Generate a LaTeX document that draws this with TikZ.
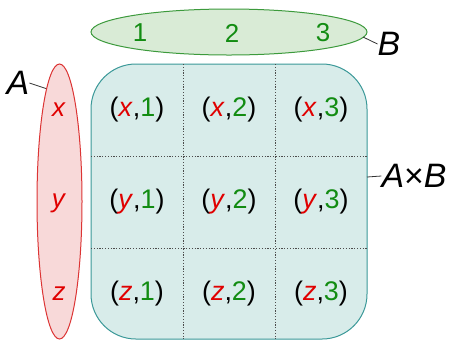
\documentclass[tikz,border=0pt]{standalone}
\usepackage{fontspec}
\setmainfont{Liberation Sans}
\usetikzlibrary{shapes.geometric}
\definecolor{gfill}{HTML}{D9EBD6}
\definecolor{gline}{HTML}{3C9A3C}
\definecolor{gtext}{HTML}{128C12}
\definecolor{rfill}{HTML}{F8D9D9}
\definecolor{rline}{HTML}{DC3434}
\definecolor{rtext}{HTML}{E00000}
\definecolor{tfill}{HTML}{D8ECEA}
\definecolor{tline}{HTML}{3A9898}
\newcommand{\redel}[1]{\textcolor{rtext}{\textit{#1}}}
\newcommand{\grel}[1]{\textcolor{gtext}{#1}}
\tikzset{
  elem/.style={inner sep=0pt, font=\fontsize{26}{30}\selectfont},
  cell/.style={inner sep=0pt, font=\fontsize{27}{32}\selectfont},
  setname/.style={inner sep=0pt, font=\fontsize{34}{40}\selectfont\itshape},
  leader/.style={draw=black!80, line width=0.8bp},
  gridline/.style={draw=black!70, line width=0.9bp, dash pattern=on 1.2bp off 1.6bp},
}
\begin{document}
\begin{tikzpicture}[x=1bp,y=-1bp]
\useasboundingbox (0,0) rectangle (459,349);
% Cartesian product box
\node (P) [draw=tline, fill=tfill, line width=1bp, rounded corners=45bp, minimum width=276bp, minimum height=275bp, inner sep=0pt] at (229,201.5) {};
\draw[gridline] (183,64) -- (183,339);
\draw[gridline] (275,64) -- (275,339);
\draw[gridline] (91,156) -- (367,156);
\draw[gridline] (91,248) -- (367,248);
% set B
\node (B) [ellipse, draw=gline, fill=gfill, line width=1bp, minimum width=276bp, minimum height=46bp, inner sep=0pt] at (229,32) {};
% set A
\node (A) [ellipse, draw=rline, fill=rfill, line width=1bp, minimum width=45bp, minimum height=275bp, inner sep=0pt] at (59.5,201.5) {};
% elements of B
\node (b1) [elem, text=gtext] at (140,33) {1};
\node (b2) [elem, text=gtext] at (232,33) {2};
\node (b3) [elem, text=gtext] at (323,33) {3};
% elements of A
\node (ax) [elem, text=rtext] at (59,110) {\textit{x}};
\node (ay) [elem, text=rtext] at (59,203) {\textit{y}};
\node (az) [elem, text=rtext] at (59,294) {\textit{z}};
% cells
\node (c11) [cell] at (137,110) {(\redel{x},\grel{1})};
\node (c12) [cell] at (229,110) {(\redel{x},\grel{2})};
\node (c13) [cell] at (321,110) {(\redel{x},\grel{3})};
\node (c21) [cell] at (137,202) {(\redel{y},\grel{1})};
\node (c22) [cell] at (229,202) {(\redel{y},\grel{2})};
\node (c23) [cell] at (321,202) {(\redel{y},\grel{3})};
\node (c31) [cell] at (137,294) {(\redel{z},\grel{1})};
\node (c32) [cell] at (229,294) {(\redel{z},\grel{2})};
\node (c33) [cell] at (321,294) {(\redel{z},\grel{3})};
% set names
\node (Bn) [setname] at (389,44) {B};
\node (An) [setname] at (18,83) {A};
\node (ABn) [setname] at (414,176) {\textit{A}\textup{×}\textit{B}};
\coordinate (Bend) at (363,37);
\coordinate (Aend) at (46,88.5);
\coordinate (Pend) at (367,177);
\draw[leader] (Bend) -- (Bn.west);
\draw[leader] (An.east) -- (Aend);
\draw[leader] (Pend) -- (ABn.west);
\end{tikzpicture}
\end{document}
